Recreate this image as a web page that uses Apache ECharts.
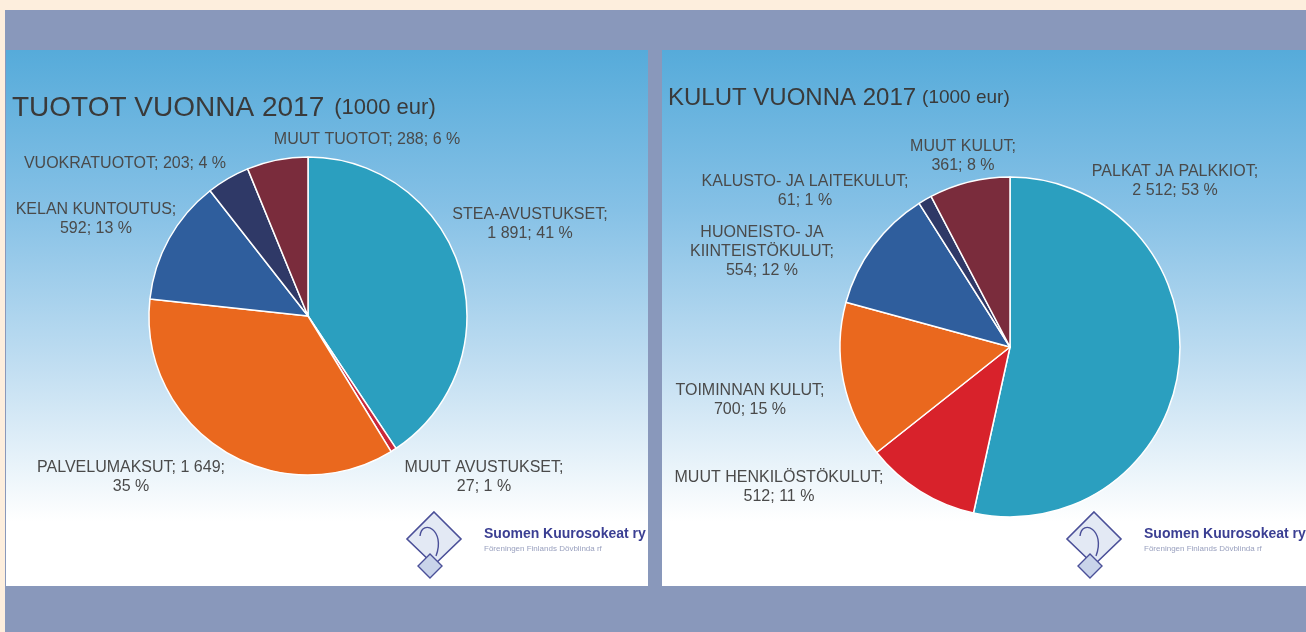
<!DOCTYPE html>
<html>
<head>
<meta charset="utf-8">
<script src="https://cdn.jsdelivr.net/npm/echarts@6/dist/echarts.min.js"></script>
<style>
html,body{margin:0;padding:0;background:#fdeedd;}
#c{width:1306px;height:632px;}
</style>
</head>
<body>
<div id="c"></div>
<script>
// ---- data ----
const incomeNames = ['STEA-AVUSTUKSET', 'MUUT AVUSTUKSET', 'PALVELUMAKSUT', 'KELAN KUNTOUTUS', 'VUOKRATUOTOT', 'MUUT TUOTOT'];
const incomeValues = [1891, 27, 1649, 592, 203, 288];
const expenseNames = ['PALKAT JA PALKKIOT', 'MUUT HENKILÖSTÖKULUT', 'TOIMINNAN KULUT', 'HUONEISTO- JA\nKIINTEISTÖKULUT', 'KALUSTO- JA LAITEKULUT', 'MUUT KULUT'];
const expenseValues = [2512, 512, 700, 554, 61, 361];
const titles = ['TUOTOT VUONNA 2017', 'KULUT VUONNA 2017'];
const titleUnit = '(1000 eur)';

// ---- styling / layout (not data) ----
const incomeColors = ['#2b9fbf', '#c9283a', '#ea681e', '#2f5e9d', '#2f3967', '#7a2c3c'];
const expenseColors = ['#2b9fbf', '#d8222b', '#ea681e', '#2f5e9d', '#2f3967', '#7a2c3c'];
// label break style: 'a' = break after name, 'b' = break after value, 'c' = one line
const incomeBreaks = ['a', 'a', 'b', 'a', 'c', 'c'];
const expenseBreaks = ['a', 'a', 'a', 'a', 'a', 'a'];
const incomeLabelPos = [[530, 224], [484, 477], [131, 477], [96, 219], [125, 164], [367, 140]];
const expenseLabelPos = [[1175, 181], [779, 487], [750, 400], [762, 252], [805, 191], [963, 156]];

function fmtNum(v) {
  return String(v).replace(/\B(?=(\d{3})+(?!\d))/g, ' ');
}
function makeFormatter(breaks) {
  return function (p) {
    const pct = Math.round(p.percent) + ' %';
    const v = fmtNum(p.value);
    const b = breaks[p.dataIndex];
    if (b === 'a') return p.name + ';\n' + v + '; ' + pct;
    if (b === 'b') return p.name + '; ' + v + ';\n' + pct;
    return p.name + '; ' + v + '; ' + pct;
  };
}
function toData(names, values) {
  return names.map((n, i) => ({ name: n, value: values[i] }));
}

const chart = echarts.init(document.getElementById('c'), null, { renderer: 'canvas' });

function panelGradient() {
  return new echarts.graphic.LinearGradient(0, 0, 0, 1, [
    { offset: 0, color: '#56abda' },
    { offset: 0.3, color: '#86c1e6' },
    { offset: 0.6, color: '#c3dff2' },
    { offset: 0.8, color: '#eef6fb' },
    { offset: 0.88, color: '#ffffff' },
    { offset: 1, color: '#ffffff' }
  ]);
}

function logo(cx, cy) {
  return {
    type: 'group',
    z: 5,
    children: [
      { type: 'polygon', shape: { points: [[cx, cy - 28], [cx + 27, cy - 1], [cx, cy + 25], [cx - 27, cy - 1]] },
        style: { fill: '#e3e9f4', stroke: '#4a4f98', lineWidth: 1.6 } },
      { type: 'polygon', shape: { points: [[cx - 4, cy + 14], [cx + 8, cy + 26], [cx - 4, cy + 38], [cx - 16, cy + 26]] },
        style: { fill: '#c9d4ea', stroke: '#4a4f98', lineWidth: 1.4 } },
      { type: 'bezierCurve', shape: { x1: cx - 14, y1: cy - 4, x2: cx + 2, y2: cy + 16, cpx1: cx - 12, cpy1: cy - 22, cpx2: cx + 12, cpy2: cy - 10 },
        style: { fill: null, stroke: '#4a4f98', lineWidth: 1.4 } },
      { type: 'text', x: cx + 50, y: cy - 6,
        style: { text: 'Suomen Kuurosokeat ry', fill: '#3b3f93', font: 'bold 14px "Liberation Sans"', textVerticalAlign: 'middle' } },
      { type: 'text', x: cx + 50, y: cy + 9,
        style: { text: 'Föreningen Finlands Dövblinda rf', fill: '#9aa1bf', font: '8px "Liberation Sans"', textVerticalAlign: 'middle' } }
    ]
  };
}

function titleText(x, y, title, big, small, gap) {
  return {
    type: 'text', z: 5, x: x, y: y,
    style: {
      text: '{a|' + title + '}{b|' + titleUnit + '}',
      verticalAlign: 'bottom',
      rich: {
        a: { fontSize: big, fontFamily: 'Liberation Sans', fill: '#3a3a3a' },
        b: { fontSize: small, fontFamily: 'Liberation Sans', fill: '#3a3a3a', padding: [0, 0, 0, gap] }
      }
    }
  };
}

function labelLayoutFor(pos) {
  return function (params) {
    const p = pos[params.dataIndex];
    return { x: p[0], y: p[1], align: 'center', verticalAlign: 'middle', hideOverlap: false };
  };
}

const labelCommon = {
  show: true,
  position: 'outside',
  color: '#4a4a4a',
  fontFamily: 'Liberation Sans',
  align: 'center',
  overflow: 'none'
};

chart.setOption({
  backgroundColor: '#fdeedd',
  animation: false,
  graphic: [
    { type: 'rect', z: -10, shape: { x: 5, y: 10, width: 1301, height: 622 }, style: { fill: '#8998bb' } },
    { type: 'rect', z: -9, shape: { x: 6, y: 50, width: 642, height: 536 }, style: { fill: panelGradient() } },
    { type: 'rect', z: -9, shape: { x: 662, y: 50, width: 644, height: 536 }, style: { fill: panelGradient() } },
    titleText(12, 122, titles[0], 28, 22, 10),
    titleText(668, 110, titles[1], 24, 19, 6),
    logo(434, 540),
    logo(1094, 540)
  ],
  series: [
    {
      type: 'pie',
      center: [308, 316],
      radius: [0, 159],
      startAngle: 90,
      clockwise: true,
      data: toData(incomeNames, incomeValues),
      color: incomeColors,
      itemStyle: { borderColor: '#ffffff', borderWidth: 1.5 },
      label: Object.assign({}, labelCommon, { fontSize: 16, lineHeight: 19, formatter: makeFormatter(incomeBreaks) }),
      labelLine: { show: false },
      labelLayout: labelLayoutFor(incomeLabelPos),
      emphasis: { disabled: true }
    },
    {
      type: 'pie',
      center: [1010, 347],
      radius: [0, 170],
      startAngle: 90,
      clockwise: true,
      data: toData(expenseNames, expenseValues),
      color: expenseColors,
      itemStyle: { borderColor: '#ffffff', borderWidth: 1.5 },
      label: Object.assign({}, labelCommon, { fontSize: 16, lineHeight: 19, formatter: makeFormatter(expenseBreaks) }),
      labelLine: { show: false },
      labelLayout: labelLayoutFor(expenseLabelPos),
      emphasis: { disabled: true }
    }
  ]
});
</script>
</body>
</html>
